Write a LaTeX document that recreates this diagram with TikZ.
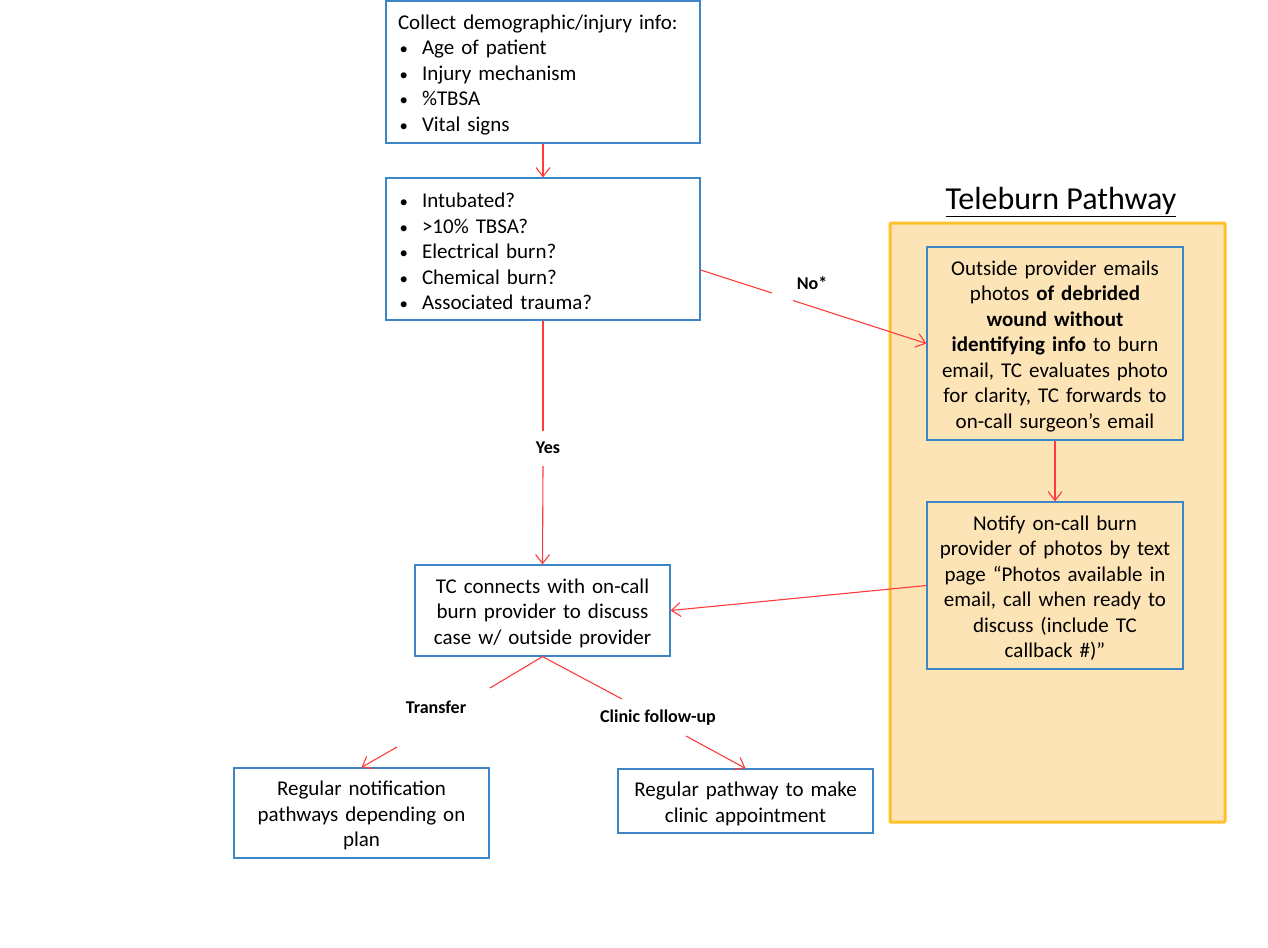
\documentclass[tikz,border=0pt]{standalone}
\usepackage{graphicx}
\usepackage{fontspec}
\setmainfont{Carlito}
\usetikzlibrary{arrows.meta}
\definecolor{boxblue}{HTML}{3C86C6}
\definecolor{arrred}{HTML}{FF3B3B}
\definecolor{tbfill}{HTML}{FDE4B6}
\definecolor{tbedge}{HTML}{FFC02A}
\tikzset{
  box/.style={draw=boxblue, line width=1.2pt, fill=white, inner xsep=12pt, inner ysep=0pt,
    font=\fontsize{21}{25.5}\selectfont},
  lbox/.style={box, align=left},
  cbox/.style={box, align=center},
  obox/.style={cbox, fill=tbfill},
  arr/.style={draw=arrred, line width=1.1pt},
  arrh/.style={arr, -{Straight Barb[length=9pt,width=14pt]}},
  lbl/.style={font=\bfseries\fontsize{18}{20}\selectfont, inner sep=0pt}
}
\newcommand{\bitem}[1]{\makebox[24pt][l]{\hspace*{1.5pt}\scalebox{0.8}{\textbullet}}#1}
\newcommand{\topfix}{\rule{0pt}{20pt}}
\begin{document}
\begin{tikzpicture}[x=1pt,y=-1pt]
\useasboundingbox (0,0) rectangle (1268,947);
% Teleburn pathway area
\draw[draw=tbedge, fill=tbfill, line width=3pt, rounded corners=1pt] (890,223) rectangle (1225,822);
\node[font=\fontsize{32}{34}\selectfont, inner sep=0pt] (title) at (1061,202) {\underline{Teleburn Pathway}};

% boxes
\node[lbox, text width=290pt, minimum height=142pt] (b1) at (543,72)
  {\topfix Collect demographic/injury info:\\ \bitem{Age of patient}\\ \bitem{Injury mechanism}\\ \bitem{\%TBSA}\\ \bitem{Vital signs}};
\node[lbox, text width=290pt, minimum height=142pt] (b2) at (543,249)
  {\topfix\bitem{Intubated?}\\ \bitem{>10\% TBSA?}\\ \bitem{Electrical burn?}\\ \bitem{Chemical burn?}\\ \bitem{Associated trauma?}};
\node[cbox, text width=231pt, minimum height=91pt] (b3) at (542.5,610.5)
  {\topfix TC connects with on-call\\ burn provider to discuss\\ case w/ outside provider};
\node[cbox, text width=231pt, minimum height=90pt] (b4) at (361.5,813)
  {\topfix Regular notification\\ pathways depending on\\ plan};
\node[cbox, text width=231pt, minimum height=64pt] (b5) at (745.5,801)
  {\topfix Regular pathway to make\\ clinic appointment};
\node[obox, text width=232pt, minimum height=193pt] (b6) at (1055,343.5)
  {\topfix Outside provider emails\\ photos \textbf{of debrided}\\ \textbf{wound without}\\ \textbf{identifying info} to burn\\ email, TC evaluates photo\\ for clarity, TC forwards to\\ on-call surgeon’s email};
\node[obox, text width=232pt, minimum height=167pt] (b7) at (1055,585.5)
  {\topfix Notify on-call burn\\ provider of photos by text\\ page “Photos available in\\ email, call when ready to\\ discuss (include TC\\ callback \#)”};

% labels
\node[lbl] (lno) at (812,283) {No*};
\node[lbl] (lyes) at (548,448) {Yes};
\node[lbl] (ltr) at (436,707) {Transfer};
\node[lbl] (lcl) at (658,718) {Clinic follow-up};

% gap coordinates
\coordinate (n1) at (772,293);
\coordinate (n2) at (793,300.5);
\coordinate (y1) at (543,431);
\coordinate (y2) at (543,466);
\coordinate (t1) at (490,688);
\coordinate (t2) at (397,747);
\coordinate (c1) at (622,699);
\coordinate (c2) at (686,736);

% connectors
\draw[arrh] (b1.south) -- (b2.north);
\draw[arr] ([yshift=-21pt]b2.east) -- (n1);
\draw[arrh] (n2) -- (b6.west);
\draw[arr] (b2.south) -- (y1);
\draw[arrh] (y2) -- (b3.north);
\draw[arrh] (b6.south) -- (b7.north);
\draw[arrh] (b7.west) -- (b3.east);
\draw[arr] (b3.south) -- (t1);
\draw[arrh] (t2) -- (b4.north);
\draw[arr] (b3.south) -- (c1);
\draw[arrh] (c2) -- (b5.north);
\end{tikzpicture}
\end{document}
